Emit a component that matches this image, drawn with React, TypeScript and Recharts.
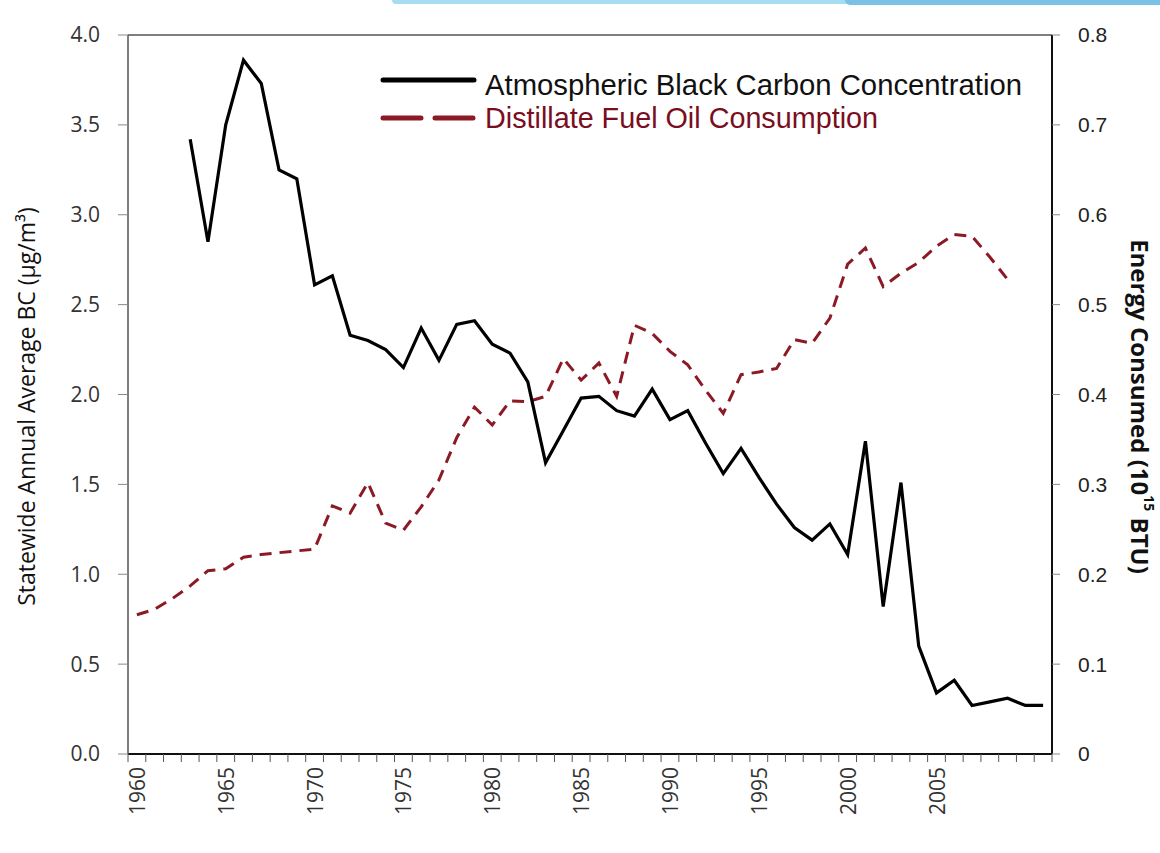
import { Legend, Line, LineChart, ReferenceLine, XAxis, YAxis } from "recharts"

const years = [
  1960, 1961, 1962, 1963, 1964, 1965, 1966, 1967, 1968, 1969,
  1970, 1971, 1972, 1973, 1974, 1975, 1976, 1977, 1978, 1979,
  1980, 1981, 1982, 1983, 1984, 1985, 1986, 1987, 1988, 1989,
  1990, 1991, 1992, 1993, 1994, 1995, 1996, 1997, 1998, 1999,
  2000, 2001, 2002, 2003, 2004, 2005, 2006, 2007, 2008, 2009,
  2010, 2011,
]

// statewide annual average BC, µg/m³ (left axis)
const blackCarbon = [
  null, null, null, 3.42, 2.85, 3.5, 3.86, 3.73, 3.25, 3.2,
  2.61, 2.66, 2.33, 2.3, 2.25, 2.15, 2.37, 2.19, 2.39, 2.41,
  2.28, 2.23, 2.07, 1.62, 1.8, 1.98, 1.99, 1.91, 1.88, 2.03,
  1.86, 1.91, 1.73, 1.56, 1.7, 1.54, 1.39, 1.26, 1.19, 1.28,
  1.11, 1.74, 0.82, 1.51, 0.6, 0.34, 0.41, 0.27, 0.29, 0.31,
  0.27, 0.27,
]

// distillate fuel oil, 10^15 BTU (right axis)
const fuelOil = [
  0.155, 0.161, 0.173, 0.187, 0.204, 0.206, 0.219, 0.222, 0.224, 0.226,
  0.228, 0.276, 0.268, 0.302, 0.257, 0.249, 0.275, 0.305, 0.352, 0.386,
  0.366, 0.393, 0.392, 0.398, 0.44, 0.416, 0.435, 0.398, 0.477, 0.468,
  0.448, 0.433, 0.405, 0.379, 0.422, 0.425, 0.429, 0.461, 0.457, 0.485,
  0.545, 0.563, 0.52, 0.535, 0.547, 0.565, 0.578, 0.576, 0.553, 0.528,
  null, null,
]

const yearLabels = [1960, 1965, 1970, 1975, 1980, 1985, 1990, 1995, 2000, 2005]
const yearEdges = [...years.map((y) => y - 0.5), years[years.length - 1] + 0.5]
const bcTicks = [0, 0.5, 1, 1.5, 2, 2.5, 3, 3.5, 4]
const energyTicks = [0, 0.1, 0.2, 0.3, 0.4, 0.5, 0.6, 0.7, 0.8]

const seriesNames = ["Atmospheric Black Carbon Concentration", "Distillate Fuel Oil Consumption"]

const RED = "#8b1a24"
const TICK_FONT = "'Open Sans', 'DejaVu Sans', sans-serif"
const ARIAL = "'Liberation Sans', Arial, sans-serif"

const data = years.map((year, i) => ({ year, bc: blackCarbon[i], fuel: fuelOil[i] }))

function YearTick({ x, y, payload }: any) {
  return (
    <text
      x={x}
      y={y}
      transform={`rotate(-90, ${x}, ${y})`}
      textAnchor="end"
      dominantBaseline="central"
      fontFamily={TICK_FONT}
      fontSize={21}
      fill="#333"
    >
      {payload.value}
    </text>
  )
}

// tick marks only, no text
function NoLabel() {
  return <g />
}

function LegendBox() {
  return (
    <svg width={680} height={80} style={{ display: "block" }}>
      <line x1={13} y1={20} x2={104} y2={20} stroke="#000" strokeWidth={5} strokeLinecap="round" />
      <text x={115} y={35} fontFamily={ARIAL} fontSize={30} fill="#111" textLength={537} lengthAdjust="spacingAndGlyphs">
        {seriesNames[0]}
      </text>
      <line x1={13} y1={58} x2={104} y2={58} stroke={RED} strokeWidth={5} strokeLinecap="round" strokeDasharray="38 14" />
      <text x={115} y={68} fontFamily={ARIAL} fontSize={30} fill="#7a0d1e" textLength={393} lengthAdjust="spacingAndGlyphs">
        {seriesNames[1]}
      </text>
    </svg>
  )
}

export default function App() {
  return (
    <div style={{ position: "absolute", left: 0, top: 0, width: 1160, height: 853, background: "#fff", overflow: "hidden" }}>
      <div
        style={{
          position: "absolute",
          left: 392,
          top: 0,
          width: 460,
          height: 4,
          background: "#a8dcf2",
          borderBottomLeftRadius: 12,
        }}
      />
      <div
        style={{
          position: "absolute",
          left: 845,
          top: 0,
          width: 315,
          height: 5,
          background: "#79c2e6",
          borderBottomLeftRadius: 10,
        }}
      />
      <LineChart width={1160} height={853} data={data} margin={{ top: 35, right: 48, bottom: 38, left: 48 }}>
        <XAxis
          xAxisId="edges"
          dataKey="year"
          type="number"
          domain={[yearEdges[0], yearEdges[yearEdges.length - 1]]}
          ticks={yearEdges}
          interval={0}
          height={1}
          tick={<NoLabel />}
          tickSize={8}
          tickLine={{ stroke: "#555" }}
          axisLine={{ stroke: "#111", strokeWidth: 2 }}
        />
        <XAxis
          xAxisId="years"
          dataKey="year"
          type="number"
          domain={[yearEdges[0], yearEdges[yearEdges.length - 1]]}
          ticks={yearLabels}
          interval={0}
          height={60}
          tickLine={false}
          axisLine={false}
          tickSize={0}
          tickMargin={12}
          tick={<YearTick />}
        />
        <YAxis
          yAxisId="bc"
          orientation="left"
          width={80}
          domain={[0, 4]}
          ticks={bcTicks}
          interval={0}
          tickFormatter={(v: number) => v.toFixed(1)}
          tickSize={10}
          tickMargin={18}
          tickLine={{ stroke: "#888" }}
          axisLine={{ stroke: "#555", strokeWidth: 1.5 }}
          tick={{ fontFamily: TICK_FONT, fontSize: 21, fill: "#333" }}
          label={({ viewBox }: any) => (
            <text
              x={viewBox.x - 22}
              y={viewBox.y + viewBox.height / 2 + 12}
              transform={`rotate(-90, ${viewBox.x - 22}, ${viewBox.y + viewBox.height / 2 + 12})`}
              textAnchor="middle"
              dominantBaseline="central"
              fontFamily={TICK_FONT}
              fontSize={23}
              fill="#111"
            >
              Statewide Annual Average BC (µg/m³)
            </text>
          )}
        />
        <YAxis
          yAxisId="energy"
          orientation="right"
          width={60}
          domain={[0, 0.8]}
          ticks={energyTicks}
          interval={0}
          tickFormatter={(v: number) => (v === 0 ? "0" : v.toFixed(1))}
          tickSize={8}
          tickMargin={18}
          tickLine={{ stroke: "#888" }}
          axisLine={{ stroke: "#111", strokeWidth: 2 }}
          tick={{ fontFamily: ARIAL, fontSize: 21, fill: "#222" }}
          label={({ viewBox }: any) => (
            <text
              x={viewBox.x + 88}
              y={viewBox.y + viewBox.height / 2 + 12}
              transform={`rotate(90, ${viewBox.x + 88}, ${viewBox.y + viewBox.height / 2 + 12})`}
              textAnchor="middle"
              dominantBaseline="central"
              fontFamily={TICK_FONT}
              fontWeight="bold"
              fontSize={24}
              fill="#111"
            >
              Energy Consumed (10<tspan baselineShift="super" fontSize={14}>15</tspan> BTU)
            </text>
          )}
        />
        <ReferenceLine yAxisId="bc" xAxisId="years" y={4} stroke="#555" strokeWidth={1.5} />
        <Line
          xAxisId="years"
          yAxisId="energy"
          dataKey="fuel"
          name={seriesNames[1]}
          stroke={RED}
          strokeWidth={3}
          strokeDasharray="12 8"
          dot={false}
          isAnimationActive={false}
        />
        <Line
          xAxisId="years"
          yAxisId="bc"
          dataKey="bc"
          name={seriesNames[0]}
          stroke="#000"
          strokeWidth={3.2}
          dot={false}
          isAnimationActive={false}
        />
        <Legend
          layout="vertical"
          align="center"
          verticalAlign="middle"
          content={<LegendBox />}
          wrapperStyle={{ position: "absolute", left: 370, top: 60, width: 680, height: 80 }}
        />
      </LineChart>
    </div>
  )
}
